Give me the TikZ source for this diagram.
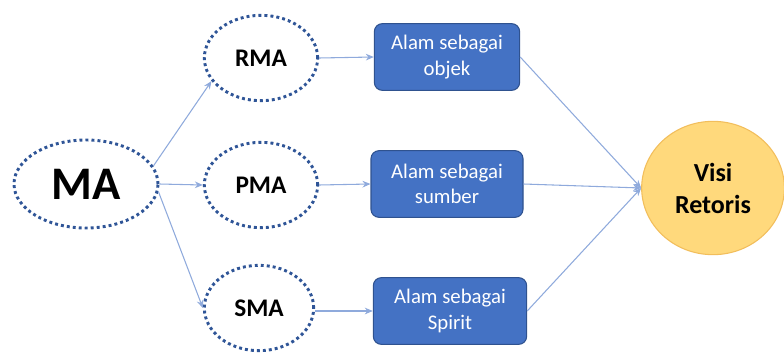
\documentclass[tikz,border=0pt]{standalone}
\usepackage{fontspec}
\setmainfont{Carlito}
\usetikzlibrary{shapes.geometric,arrows.meta}
\definecolor{dotblue}{HTML}{2F5597}
\definecolor{boxfill}{HTML}{4472C4}
\definecolor{boxedge}{HTML}{2F528F}
\definecolor{linkblue}{HTML}{8FAADC}
\definecolor{visifill}{HTML}{FFD97C}
\definecolor{visiedge}{HTML}{F2BE5C}
\tikzset{
  dotell/.style={ellipse, draw=dotblue, line width=2.2pt, dash pattern=on 2.2pt off 2.3pt, inner sep=0pt, font=\bfseries\fontsize{19}{21}\selectfont},
  alam/.style={rectangle, rounded corners=6pt, draw=boxedge, line width=0.8pt, fill=boxfill, text=white, align=center, inner sep=0pt, font=\fontsize{15.6}{19}\selectfont},
  link/.style={draw=linkblue, line width=0.8pt, -{Stealth[length=6pt,width=5pt]}}
}
\begin{document}
\begin{tikzpicture}[x=0.75pt,y=-0.75pt]
\useasboundingbox (0,0) rectangle (784,353);
\node[dotell, minimum width=108pt, minimum height=66pt, font=\bfseries\fontsize{35}{38}\selectfont] (MA) at (86,184) {MA};
\node[dotell, minimum width=85pt, minimum height=64pt] (RMA) at (261,58) {RMA};
\node[dotell, minimum width=85pt, minimum height=64pt] (PMA) at (261,185) {PMA};
\node[dotell, minimum width=82pt, minimum height=64pt] (SMA) at (259,308) {SMA};
\node[alam, minimum width=109pt, minimum height=50pt] (B1) at (447,57) {Alam sebagai\\objek};
\node[alam, minimum width=114pt, minimum height=50pt] (B2) at (447,184) {Alam sebagai\\sumber};
\node[alam, minimum width=115pt, minimum height=50pt] (B3) at (450,311) {Alam sebagai\\Spirit};
\node[ellipse, fill=visifill, draw=visiedge, line width=0.8pt, minimum width=107pt, minimum height=100pt, inner sep=0pt, align=center, font=\bfseries\fontsize{19.5}{24}\selectfont] (V) at (713,188) {Visi\\Retoris};
\draw[link] (MA.15) -- (RMA.205);
\draw[link] (MA.east) -- (PMA.west);
\draw[link] (MA.-6) -- (SMA.west);
\draw[link] (RMA.east) -- (B1.west);
\draw[link] (PMA.east) -- (B2.west);
\draw[link] (SMA.east |- B3.west) -- (B3.west);
\draw[link] (B1.east) -- (V.west);
\draw[link] (B2.east) -- (V.west);
\draw[link] (B3.east) -- (V.west);
\end{tikzpicture}
\end{document}
